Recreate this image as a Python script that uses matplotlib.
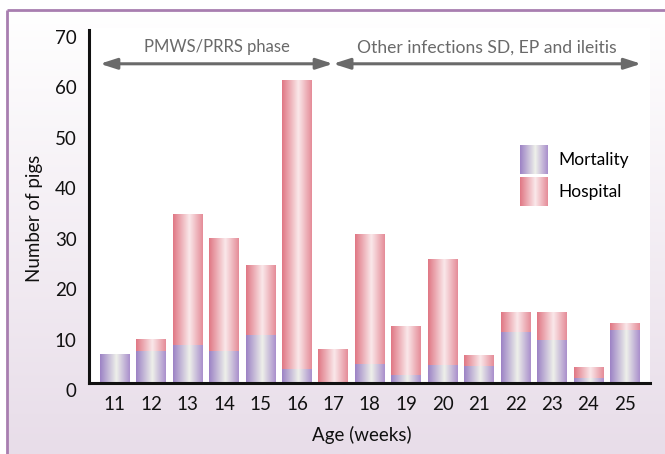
import numpy as np
import matplotlib
matplotlib.use("Agg")
import matplotlib.pyplot as plt
from matplotlib.colors import LinearSegmentedColormap
from matplotlib.legend_handler import HandlerBase
from matplotlib.image import BboxImage
from matplotlib.transforms import Bbox, TransformedBbox, ScaledTranslation
from matplotlib.patches import Patch

plt.rcParams['font.family'] = ['Lato', 'DejaVu Sans']

# data
weeks = [11, 12, 13, 14, 15, 16, 17, 18, 19, 20, 21, 22, 23, 24, 25]
mortality = [5.6, 6.3, 7.5, 6.3, 9.5, 2.8, 0, 3.8, 1.5, 3.6, 3.4, 10.2, 8.6, 1.0, 10.6]
total = [5.6, 8.5, 33.3, 28.6, 23.2, 60.0, 6.7, 29.4, 11.1, 24.6, 5.4, 14.1, 14.1, 3.0, 11.9]
hospital = [t - m for t, m in zip(total, mortality)]

yticks = [0, 10, 20, 30, 40, 50, 60, 70]
phases = ["PMWS/PRRS phase", "Other infections SD, EP and ileitis"]

mort_cmap = LinearSegmentedColormap.from_list(
    "mort", [(0, "#9c82c5"), (0.55, "#eef0ea"), (1, "#a98fcc")])
hosp_cmap = LinearSegmentedColormap.from_list(
    "hosp", [(0, "#e07784"), (0.55, "#fae8ea"), (1, "#e58c98")])
grad = np.linspace(0, 1, 128).reshape(1, -1)

fig = plt.figure(figsize=(6.65, 4.54), dpi=100)

# background: vertical gradient with purple frame lines
bg = fig.add_axes([0, 0, 1, 1], zorder=-10)
bg.set_xlim(0, 665)
bg.set_ylim(454, 0)
bg.axis("off")
bg_cmap = LinearSegmentedColormap.from_list("bg", ["#ffffff", "#e8dde9"])
bg.imshow(np.linspace(0, 1, 256).reshape(-1, 1), cmap=bg_cmap, aspect="auto",
          extent=[7, 665, 454, 10])
bg.fill_between([89, 650], 28, 383, color="white", lw=0)
bg.plot([7, 665], [10, 10], color="#a87eb0", lw=2, solid_capstyle="butt")
bg.plot([7, 7], [10, 454], color="#a87eb0", lw=2, solid_capstyle="butt")

ax = fig.add_axes([89 / 665, 1 - 383 / 454, (650 - 89) / 665, (383 - 30) / 454])
ax.set_facecolor("none")

x = np.array(weeks)
w = 0.82
mbars = ax.bar(x, mortality, w, color="none", lw=0)
hbars = ax.bar(x, hospital, w, bottom=mortality, color="none", lw=0)

for bars, cm in [(mbars, mort_cmap), (hbars, hosp_cmap)]:
    for b in bars:
        if b.get_height() <= 0:
            continue
        x0, y0 = b.get_x(), b.get_y()
        ax.imshow(grad, cmap=cm, aspect="auto", interpolation="bilinear",
                  extent=[x0, x0 + b.get_width(), y0, y0 + b.get_height()],
                  zorder=2)

ax.set_xlim(10.29, 25.69)
ax.set_ylim(0, 70)
ax.set_xticks(weeks)
ax.set_yticks(yticks)
ax.tick_params(length=0, labelsize=13.5, colors="#111111")
ax.tick_params(axis="y", pad=9)
ax.tick_params(axis="x", pad=9)
for lab in ax.get_yticklabels():
    lab.set_transform(lab.get_transform() + ScaledTranslation(0, -0.07, fig.dpi_scale_trans))

for s in ["top", "right"]:
    ax.spines[s].set_visible(False)
for s in ["left", "bottom"]:
    ax.spines[s].set_linewidth(2.2)
    ax.spines[s].set_color("#111111")

ax.set_ylabel("Number of pigs", fontsize=13.5, color="#111111")
ax.set_xlabel("Age (weeks)", fontsize=13.5, color="#111111")
ax.yaxis.set_label_coords(-0.082, 0.465)
ax.xaxis.set_label_coords(0.487, -0.122)

# phase arrows
arrow_kw = dict(arrowstyle="<|-|>,head_length=1.0,head_width=0.32", color="#6a6a6a", lw=2.2,
                shrinkA=0, shrinkB=0)
ax.annotate("", xy=(10.59, 63.3), xytext=(16.99, 63.3), arrowprops=arrow_kw)
ax.annotate("", xy=(16.99, 63.3), xytext=(25.45, 63.3), arrowprops=arrow_kw)
ax.text(13.80, 66.6, phases[0], ha="center", va="center", fontsize=12, color="#6a6a6a")
ax.text(21.22, 66.6, phases[1], ha="center", va="center", fontsize=12.6, color="#6a6a6a")


class GradHandler(HandlerBase):
    def __init__(self, cmap):
        super().__init__()
        self.cmap = cmap

    def create_artists(self, legend, orig_handle, xdescent, ydescent, width, height,
                       fontsize, trans):
        bb = Bbox.from_bounds(-xdescent, -ydescent - 0.35 * height, width, height * 1.6)
        img = BboxImage(TransformedBbox(bb, trans), cmap=self.cmap, interpolation="bilinear")
        img.set_data(grad)
        return [img]


hm = Patch(label="Mortality")
hh = Patch(label="Hospital")
ax.legend([hm, hh], ["Mortality", "Hospital"],
          handler_map={hm: GradHandler(mort_cmap), hh: GradHandler(hosp_cmap)},
          loc="upper left", bbox_to_anchor=(0.74, 0.705), frameon=False, fontsize=12.5,
          handlelength=1.6, handleheight=1.2, handletextpad=0.6, labelspacing=0.85)

fig.savefig("out.png", dpi=100)
